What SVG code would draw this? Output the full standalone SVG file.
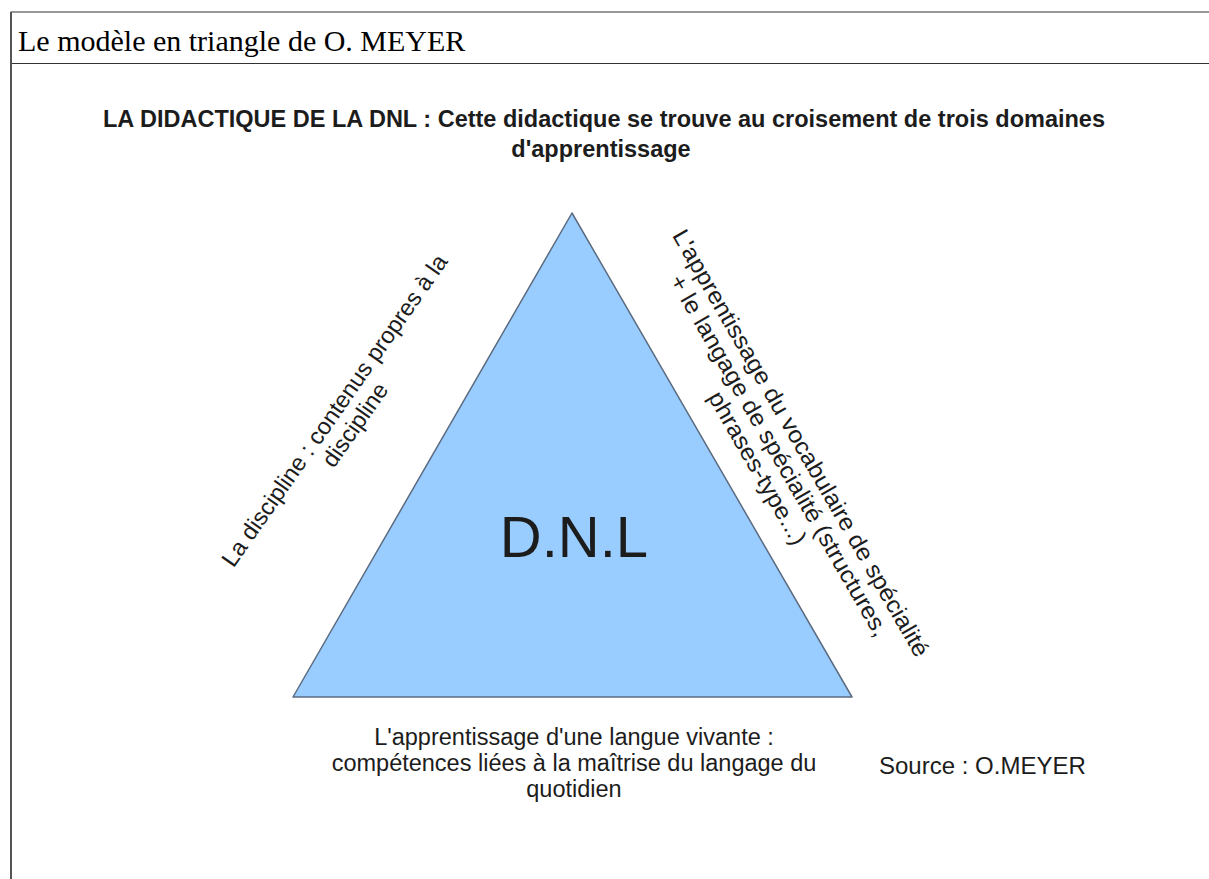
<svg xmlns="http://www.w3.org/2000/svg" width="1209" height="879" viewBox="0 0 1209 879">
<style>
.frame{stroke:#333;stroke-width:1.2;fill:none}
.sans{font-family:"Liberation Sans",Arial,sans-serif;fill:#1c1c1c}
.lbl{font-size:23.5px}
.head{font-size:23.5px;font-weight:bold}
.title{font-family:"Liberation Serif","Times New Roman",serif;font-size:30px;fill:#000}
</style>
<rect width="1209" height="879" fill="#ffffff"/>
<g id="frame">
<line class="frame" x1="10.5" y1="12" x2="1209" y2="12"/>
<line class="frame" x1="10.5" y1="63.5" x2="1209" y2="63.5" stroke="#555"/>
<line x1="11" y1="12" x2="11" y2="879" stroke="#555" stroke-width="2"/>
<text class="title" x="18" y="51">Le modèle en triangle de O. MEYER</text>
</g>
<g id="heading" class="sans head" text-anchor="middle">
<text x="604" y="127">LA DIDACTIQUE DE LA DNL : Cette didactique se trouve au croisement de trois domaines</text>
<text x="601" y="157">d'apprentissage</text>
</g>
<g id="triangle">
<polygon points="293,697 572,213 852,697" fill="#99CCFF" stroke="#5b6b80" stroke-width="1.5" stroke-linejoin="round"/>
<text class="sans" x="574" y="557" font-size="58" text-anchor="middle" fill="#111">D.N.L</text>
</g>
<g id="label-left" class="sans lbl" text-anchor="middle" transform="translate(341,415) rotate(-55)">
<text x="0" y="0">La discipline : contenus propres à la</text>
<text x="0" y="25">discipline</text>
</g>
<g id="label-right" class="sans lbl" text-anchor="middle" transform="translate(794,447) rotate(60) scale(1.06,1)">
<text x="0" y="0">L'apprentissage du vocabulaire de spécialité</text>
<text x="0" y="25">+ le langage de spécialité (structures,</text>
<text x="0" y="50">phrases-type...)</text>
</g>
<g id="label-bottom" class="sans lbl" text-anchor="middle">
<text x="574" y="745">L'apprentissage d'une langue vivante :</text>
<text x="574" y="771">compétences liées à la maîtrise du langage du</text>
<text x="574" y="797">quotidien</text>
</g>
<g id="source">
<text class="sans" x="879" y="774" font-size="24">Source : O.MEYER</text>
</g>
<g id="connectors"></g>
</svg>
